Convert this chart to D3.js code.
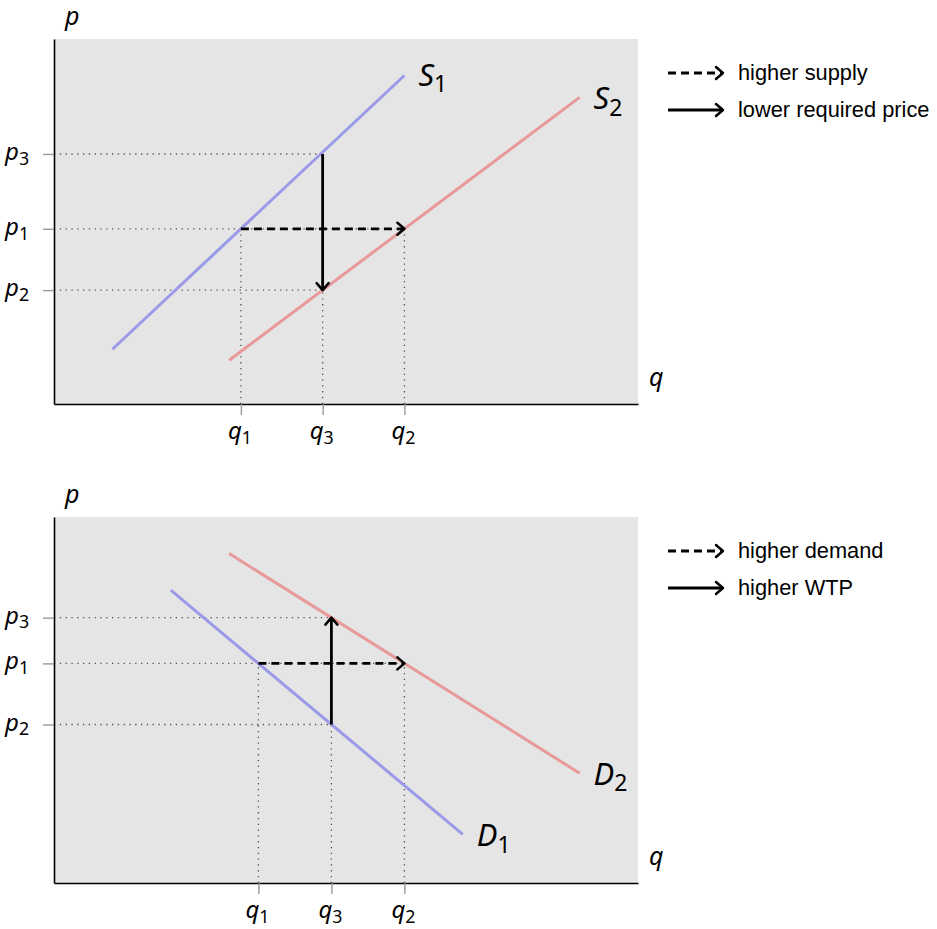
<!DOCTYPE html>
<html>
<head>
<meta charset="utf-8">
<script src="https://cdn.jsdelivr.net/npm/d3@7"></script>
<style>
  body { margin: 0; background: #fff; }
  svg { display: block; }
  .math { font-family: "Noto Sans", "DejaVu Sans", sans-serif; }
  .legend text { font-family: "Liberation Sans", Arial, sans-serif; font-size: 21.8px; fill: #000; }
</style>
</head>
<body>
<script>
// ---- Supply shift (top panel) ----
const supplyQ = [3.2, 4.6, 6.0];          // q1, q3, q2
const supplyQSub = ["1", "3", "2"];
const supplyP = [6.85, 4.8, 3.12];        // p3, p1, p2
const supplyPSub = ["3", "1", "2"];
const supplyS1 = [[1, 1.5], [6, 9]];
const supplyS2 = [[3, 1.2], [9, 8.4]];
const supplyLegend = ["higher supply", "lower required price"];

// ---- Demand shift (bottom panel) ----
const demandQ = [3.5, 4.75, 6.0];         // q1, q3, q2
const demandQSub = ["1", "3", "2"];
const demandP = [7.25, 6.0, 4.33];        // p3, p1, p2
const demandPSub = ["3", "1", "2"];
const demandD1 = [[2, 8], [7, 1.33]];
const demandD2 = [[3, 9], [9, 3]];
const demandLegend = ["higher demand", "higher WTP"];

const W = 937, H = 929;
const BLUE = "#9a9ae8", RED = "#e89a9a", BG = "#e5e5e5";

const svg = d3.select("body").append("svg").attr("width", W).attr("height", H);

// open chevron arrowhead
const defs = svg.append("defs");
defs.append("marker")
  .attr("id", "head")
  .attr("markerUnits", "userSpaceOnUse")
  .attr("viewBox", "-10 -8 12 16")
  .attr("markerWidth", 12).attr("markerHeight", 16)
  .attr("refX", 0).attr("refY", 0)
  .attr("orient", "auto")
  .append("path")
  .attr("d", "M-7,-6 L0,0 L-7,6")
  .attr("fill", "none").attr("stroke", "#000")
  .attr("stroke-width", 2.5).attr("stroke-dasharray", "none")
  .attr("stroke-linecap", "round").attr("stroke-linejoin", "round");

function mathLabel(sel, letter, sub, size) {
  sel.append("tspan").attr("font-style", "italic").attr("font-size", size).text(letter);
  sel.append("tspan").attr("font-size", size * 0.74).attr("dy", size * 0.2).text(sub);
}

function drawPanel(cfg) {
  const g = svg.append("g");
  const x = d3.scaleLinear().domain([0, 10]).range([54, 638]);
  const y = d3.scaleLinear().domain([0, 10]).range([cfg.bottom, cfg.top]);

  g.append("rect")
    .attr("x", x(0)).attr("y", y(10))
    .attr("width", x(10) - x(0)).attr("height", y(0) - y(10))
    .attr("fill", BG);

  // dotted guides: horizontal from axis to the point, vertical from point down to axis
  const guide = (x1, y1, x2, y2) => g.append("line")
    .attr("x1", x1).attr("y1", y1).attr("x2", x2).attr("y2", y2)
    .attr("stroke", "#555").attr("stroke-width", 1.3)
    .attr("stroke-dasharray", "1.3,4.5");
  cfg.hGuides.forEach(([q, p]) => guide(x(0), y(p), x(q), y(p)));
  cfg.vGuides.forEach(([q, p]) => guide(x(q), y(0), x(q), y(p)));

  // curves
  const line = d3.line().x(d => x(d[0])).y(d => y(d[1]));
  cfg.curves.forEach(c => {
    g.append("path").attr("d", line(c.pts))
      .attr("fill", "none").attr("stroke", c.color)
      .attr("stroke-width", 3).attr("stroke-linecap", "butt");
    const end = c.pts[1];
    const t = g.append("text").attr("class", "math")
      .attr("x", x(end[0]) + c.dx).attr("y", y(end[1]) + c.dy);
    mathLabel(t, c.name, c.sub, 31);
  });

  // arrows
  cfg.arrows.forEach(a => {
    g.append("line")
      .attr("x1", x(a.from[0])).attr("y1", y(a.from[1]))
      .attr("x2", x(a.to[0])).attr("y2", y(a.to[1]))
      .attr("stroke", "#000").attr("stroke-width", 2.8)
      .attr("stroke-dasharray", a.dashed ? "8,5" : null)
      .attr("marker-end", "url(#head)");
  });

  // axes
  const yAxis = d3.axisLeft(y).tickValues(cfg.pTicks).tickSize(11).tickSizeOuter(0).tickFormat("");
  const xAxis = d3.axisBottom(x).tickValues(cfg.qTicks).tickSize(11).tickSizeOuter(0).tickFormat("");
  const ya = g.append("g").attr("transform", `translate(${x(0)},0)`).call(yAxis);
  const xa = g.append("g").attr("transform", `translate(0,${y(0)})`).call(xAxis);
  [ya, xa].forEach(a => {
    a.select(".domain").attr("stroke", "#000").attr("stroke-width", 1.6);
    a.selectAll(".tick line").attr("stroke", "#999").attr("stroke-width", 1.4);
  });

  cfg.pTicks.forEach((p, i) => {
    const t = g.append("text").attr("class", "math")
      .attr("x", 5).attr("y", y(p) + 6);
    mathLabel(t, "p", cfg.pSub[i], 24);
  });
  cfg.qTicks.forEach((q, i) => {
    const t = g.append("text").attr("class", "math")
      .attr("x", x(q) - 13).attr("y", y(0) + 35);
    mathLabel(t, "q", cfg.qSub[i], 24);
  });

  g.append("text").attr("class", "math").attr("font-style", "italic").attr("font-size", 25)
    .attr("x", 65).attr("y", cfg.top - 14).text("p");
  g.append("text").attr("class", "math").attr("font-style", "italic").attr("font-size", 25)
    .attr("x", 649).attr("y", y(0) - 18).text("q");

  // legend
  const lg = g.append("g").attr("class", "legend");
  cfg.legend.forEach((txt, i) => {
    const ly = cfg.top + 34 + i * 37;
    lg.append("line")
      .attr("x1", 668).attr("y1", ly).attr("x2", 723).attr("y2", ly)
      .attr("stroke", "#000").attr("stroke-width", 2.8)
      .attr("stroke-dasharray", i === 0 ? "8,5" : null)
      .attr("marker-end", "url(#head)");
    lg.append("text").attr("x", 738).attr("y", ly + 7).text(txt);
  });
}

drawPanel({
  top: 39, bottom: 404,
  pTicks: supplyP, pSub: supplyPSub,
  qTicks: supplyQ, qSub: supplyQSub,
  curves: [
    { name: "S", sub: "1", pts: supplyS1, color: BLUE, dx: 14, dy: 10 },
    { name: "S", sub: "2", pts: supplyS2, color: RED, dx: 14, dy: 12 }
  ],
  hGuides: [[supplyQ[1], supplyP[0]], [supplyQ[2], supplyP[1]], [supplyQ[1], supplyP[2]]],
  vGuides: [[supplyQ[0], supplyP[1]], [supplyQ[1], supplyP[2]], [supplyQ[2], supplyP[1]]],
  arrows: [
    { from: [supplyQ[0], supplyP[1]], to: [supplyQ[2], supplyP[1]], dashed: true },
    { from: [supplyQ[1], supplyP[0]], to: [supplyQ[1], supplyP[2]], dashed: false }
  ],
  legend: supplyLegend
});

drawPanel({
  top: 517, bottom: 883,
  pTicks: demandP, pSub: demandPSub,
  qTicks: demandQ, qSub: demandQSub,
  curves: [
    { name: "D", sub: "1", pts: demandD1, color: BLUE, dx: 14, dy: 12 },
    { name: "D", sub: "2", pts: demandD2, color: RED, dx: 14, dy: 12 }
  ],
  hGuides: [[demandQ[1], demandP[0]], [demandQ[2], demandP[1]], [demandQ[1], demandP[2]]],
  vGuides: [[demandQ[0], demandP[1]], [demandQ[1], demandP[2]], [demandQ[2], demandP[1]]],
  arrows: [
    { from: [demandQ[0], demandP[1]], to: [demandQ[2], demandP[1]], dashed: true },
    { from: [demandQ[1], demandP[2]], to: [demandQ[1], demandP[0]], dashed: false }
  ],
  legend: demandLegend
});
</script>
</body>
</html>
